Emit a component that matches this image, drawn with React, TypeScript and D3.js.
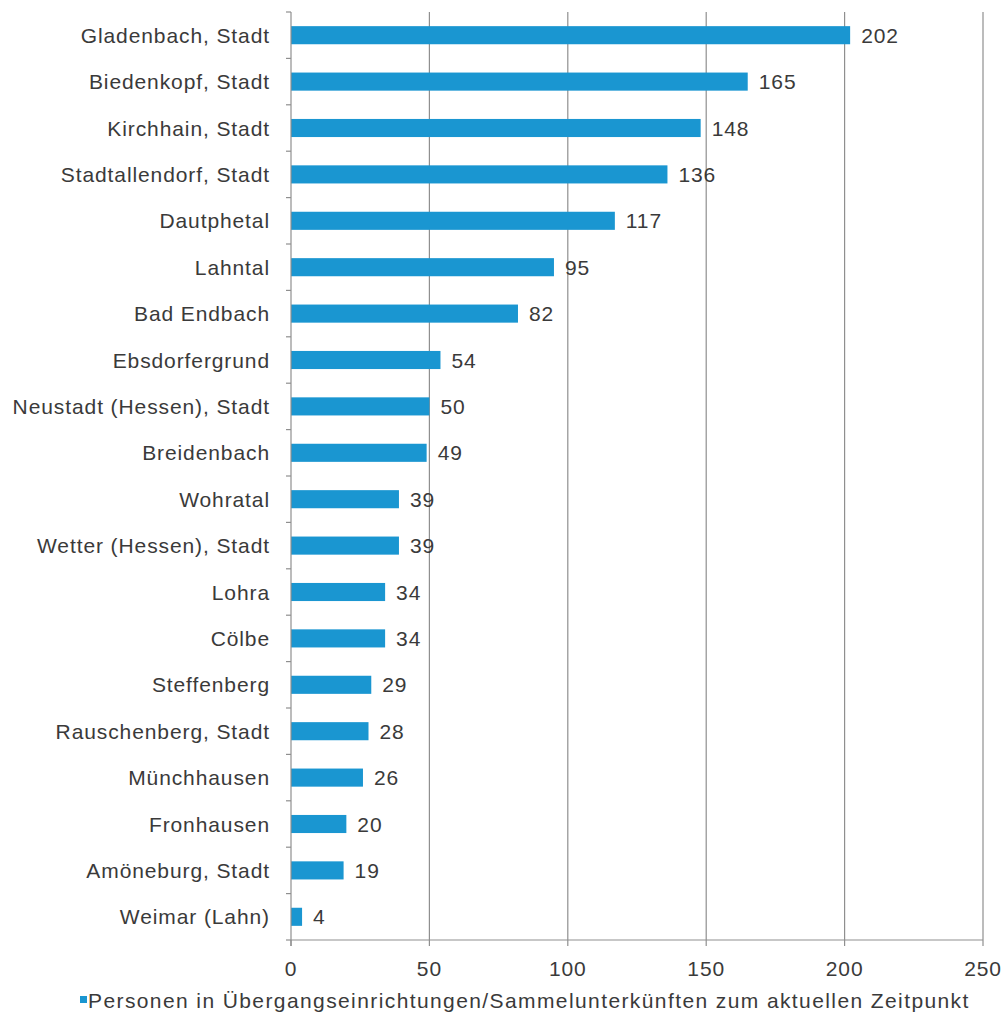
import React from "react";
import * as d3 from "d3";

const categories: string[] = [
  "Gladenbach, Stadt",
  "Biedenkopf, Stadt",
  "Kirchhain, Stadt",
  "Stadtallendorf, Stadt",
  "Dautphetal",
  "Lahntal",
  "Bad Endbach",
  "Ebsdorfergrund",
  "Neustadt (Hessen), Stadt",
  "Breidenbach",
  "Wohratal",
  "Wetter (Hessen), Stadt",
  "Lohra",
  "Cölbe",
  "Steffenberg",
  "Rauschenberg, Stadt",
  "Münchhausen",
  "Fronhausen",
  "Amöneburg, Stadt",
  "Weimar (Lahn)",
];
const values: number[] = [202, 165, 148, 136, 117, 95, 82, 54, 50, 49, 39, 39, 34, 34, 29, 28, 26, 20, 19, 4];
const xTicks: number[] = [0, 50, 100, 150, 200, 250];
const seriesName = "Personen in Übergangseinrichtungen/Sammelunterkünften zum aktuellen Zeitpunkt";

const W = 1008;
const H = 1030;
const FONT = "'Liberation Sans', Arial, sans-serif";
const FS = 21;
const LS = 0.9;
const BAR = "#1a96d1";
const TEXT = "#3a3a3a";
const GRID = "#8f8f8f";

export default function App() {
  const x = d3.scaleLinear().domain([0, 250]).range([291, 983]);
  const y = d3
    .scaleBand<string>()
    .domain(categories)
    .range([12, 940])
    .paddingInner(0.61)
    .paddingOuter(0.305);
  const step = y.step();
  const bottom = 940;
  const top = 12;
  const boundaries = d3.range(categories.length + 1).map((i) => top + i * step);

  return (
    <svg
      width={W}
      height={H}
      style={{ position: "absolute", left: 0, top: 0, background: "#fff" }}
      fontFamily={FONT}
    >
      {/* gridlines */}
      {xTicks.slice(1).map((t) => (
        <line key={"g" + t} x1={x(t)} x2={x(t)} y1={top} y2={bottom} stroke={GRID} strokeWidth={1.2} />
      ))}
      {/* bars */}
      {categories.map((c, i) => (
        <rect key={"b" + c} x={x(0)} y={y(c)!} width={x(values[i]) - x(0)} height={y.bandwidth()} fill={BAR} />
      ))}
      {/* value labels */}
      {categories.map((c, i) => (
        <text
          key={"v" + c}
          x={x(values[i]) + 11}
          y={y(c)! + y.bandwidth() / 2}
          dy="0.36em"
          fontSize={FS}
          letterSpacing={LS}
          fill={TEXT}
        >
          {values[i]}
        </text>
      ))}
      {/* category labels */}
      {categories.map((c) => (
        <text
          key={"c" + c}
          x={270}
          y={y(c)! + y.bandwidth() / 2}
          dy="0.36em"
          textAnchor="end"
          fontSize={FS}
          letterSpacing={LS}
          fill={TEXT}
        >
          {c}
        </text>
      ))}
      {/* y axis */}
      <line x1={x(0)} x2={x(0)} y1={top} y2={bottom + 6} stroke={GRID} strokeWidth={1.2} />
      {boundaries.map((b, i) => (
        <line key={"yt" + i} x1={x(0) - 5} x2={x(0)} y1={b} y2={b} stroke={GRID} strokeWidth={1.2} />
      ))}
      {/* x axis */}
      <line x1={x(0)} x2={x(250)} y1={bottom} y2={bottom} stroke={GRID} strokeWidth={1.2} />
      {xTicks.map((t) => (
        <g key={"xt" + t}>
          <line x1={x(t)} x2={x(t)} y1={bottom} y2={bottom + 6} stroke={GRID} strokeWidth={1.2} />
          <text
            x={x(t)}
            y={968}
            dy="0.36em"
            textAnchor="middle"
            fontSize={FS}
            letterSpacing={LS}
            fill={TEXT}
          >
            {t}
          </text>
        </g>
      ))}
      {/* legend */}
      <rect x={80} y={996} width={7} height={7} fill={BAR} />
      <text x={88} y={1000} dy="0.36em" fontSize={FS} letterSpacing={1.4} fill={TEXT}>
        {seriesName}
      </text>
    </svg>
  );
}
